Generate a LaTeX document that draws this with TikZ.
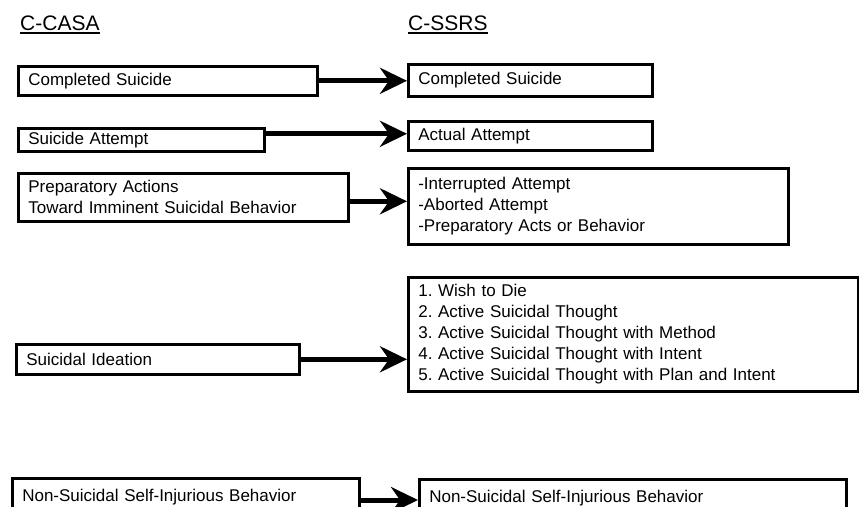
\documentclass[tikz,border=0pt]{standalone}
\usepackage{fontspec}
\setmainfont{Liberation Sans}
\frenchspacing
\usetikzlibrary{arrows.meta,calc}
\tikzset{
  bx/.style={draw, line width=2.6pt, rectangle, inner xsep=10pt, inner ysep=0pt, align=left, anchor=north west, font=\fontsize{17}{21}\selectfont},
  arr/.style={line width=5pt, -{Stealth[length=27pt,width=26pt,inset=9pt]}},
  hd/.style={anchor=base west, inner sep=0pt, font=\fontsize{21}{25}\selectfont},
  ul/.style={line width=1.6pt}
}
\begin{document}
\begin{tikzpicture}[x=1pt,y=-1pt]
\useasboundingbox (0,0) rectangle (859,506);
\clip (0,0) rectangle (859,506);
% headings
\node[hd] (h1) at (20,30) {C-CASA};
\node[hd] (h2) at (408,30) {C-SSRS};
\draw[ul] ([yshift=-3pt]h1.base west) -- ([yshift=-3pt]h1.base east);
\draw[ul] ([yshift=-3pt]h2.base west) -- ([yshift=-3pt]h2.base east);
% left boxes
\node[bx, text width=279pt, minimum height=29pt] (l1) at (17,65) {Completed Suicide};
\node[bx, text width=226pt, minimum height=23pt] (l2) at (17,127) {Suicide Attempt};
\node[bx, text width=310pt, minimum height=48pt] (l3) at (17,172) {Preparatory Actions\\Toward Imminent Suicidal Behavior};
\node[bx, text width=263pt, minimum height=30pt] (l4) at (15,343) {Suicidal Ideation};
\node[bx, text width=327pt, inner ysep=10pt, text height=13pt, text depth=30pt] (l5) at (11,477) {Non-Suicidal Self-Injurious Behavior};
% right boxes
\node[bx, text width=224pt, minimum height=32pt] (r1) at (407,63) {Completed Suicide};
\node[bx, text width=224pt, minimum height=29pt] (r2) at (407,120) {Actual Attempt};
\node[bx, text width=360pt, minimum height=76pt] (r3) at (407,167) {-Interrupted Attempt\\-Aborted Attempt\\-Preparatory Acts or Behavior};
\node[bx, text width=430pt, minimum height=114pt] (r4) at (407,276) {1. Wish to Die\\2. Active Suicidal Thought\\3. Active Suicidal Thought with Method\\4. Active Suicidal Thought with Intent\\5. Active Suicidal Thought with Plan and Intent};
\node[bx, text width=407pt, inner ysep=10pt, text height=13pt, text depth=30pt] (r5) at (418,478) {Non-Suicidal Self-Injurious Behavior};
% arrows
\draw[arr] (l1.east) -- (l1.east -| r1.west);
\draw[arr] ([yshift=6pt]l2.east) coordinate (s2) -- (s2 -| r2.west);
\draw[arr] ([yshift=-4pt]l3.east) coordinate (s3) -- (s3 -| r3.west);
\draw[arr] (l4.east) -- (l4.east -| r4.west);
\draw[arr] ([yshift=-23pt]l5.north east) coordinate (s5) -- (s5 -| r5.west);
\end{tikzpicture}
\end{document}
